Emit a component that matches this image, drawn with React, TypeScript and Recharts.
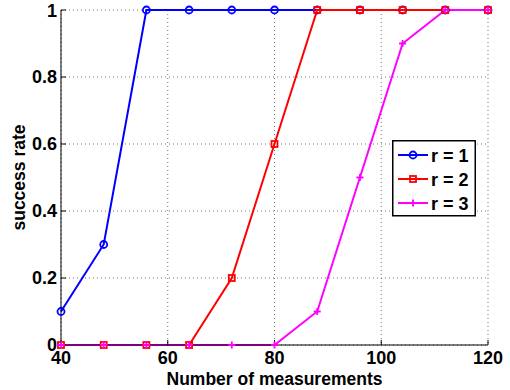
import React from "react";
import {
  LineChart,
  Line,
  XAxis,
  YAxis,
  CartesianGrid,
  Label,
} from "recharts";

const measurements = [40, 48, 56, 64, 72, 80, 88, 96, 104, 112, 120];
const rateR1 = [0.1, 0.3, 1, 1, 1, 1, 1, 1, 1, 1, 1];
const rateR2 = [0, 0, 0, 0, 0.2, 0.6, 1, 1, 1, 1, 1];
const rateR3 = [0, 0, 0, 0, 0, 0, 0.1, 0.5, 0.9, 1, 1];
const xTicks = [40, 60, 80, 100, 120];
const yTicks = [0, 0.2, 0.4, 0.6, 0.8, 1];

const seriesNames = ["r = 1", "r = 2", "r = 3"];

const data = measurements.map((n, i) => ({
  n,
  r1: rateR1[i],
  r2: rateR2[i],
  r3: rateR3[i],
}));

const FONT = '"Liberation Sans", Arial, Helvetica, sans-serif';
const BLUE = "#0000ff";
const RED = "#ff0000";
const MAGENTA = "#ff00ff";

// MATLAB-style markers
function CircleMark({ cx, cy }: any) {
  if (cx == null || cy == null) return null;
  return <circle cx={cx} cy={cy} r={3.5} fill="none" stroke={BLUE} strokeWidth={1.8} />;
}

function SquareMark({ cx, cy }: any) {
  if (cx == null || cy == null) return null;
  return (
    <rect x={cx - 3} y={cy - 3} width={6} height={6} fill="none" stroke={RED} strokeWidth={1.8} />
  );
}

function PlusMark({ cx, cy }: any) {
  if (cx == null || cy == null) return null;
  return (
    <path
      d={`M${cx - 3.5},${cy}H${cx + 3.5}M${cx},${cy - 3.5}V${cy + 3.5}`}
      stroke={MAGENTA}
      strokeWidth={1.8}
    />
  );
}

function LegendBox() {
  const colors = [BLUE, RED, MAGENTA];
  const marks = [CircleMark, SquareMark, PlusMark];
  return (
    <svg
      width={84}
      height={77}
      style={{ position: "absolute", left: 392, top: 140, display: "block" }}
    >
      <rect x={0.75} y={0.75} width={82.5} height={75} fill="#fff" stroke="#000" strokeWidth={1.5} />
      {seriesNames.map((name, i) => {
        const y = 15 + i * 24;
        const Mark = marks[i];
        return (
          <g key={name}>
            <line x1={6} x2={36} y1={y} y2={y} stroke={colors[i]} strokeWidth={2} />
            <Mark cx={21} cy={y} />
            <text
              x={39}
              y={y + 6.5}
              fontFamily={FONT}
              fontWeight="bold"
              fontSize={18}
              fill="#000"
            >
              {name}
            </text>
          </g>
        );
      })}
    </svg>
  );
}

export default function App() {
  const tickStyle = { fill: "#000", fontSize: 18, fontWeight: "bold", fontFamily: FONT };
  const labelStyle = { fill: "#000", fontSize: 17.5, fontWeight: "bold", fontFamily: FONT };
  return (
    <div style={{ position: "absolute", left: 0, top: 0, width: 510, height: 390, fontFamily: FONT }}>
      <LineChart
        width={510}
        height={390}
        data={data}
        margin={{ top: 10, right: 22, bottom: 0, left: 0 }}
      >
        <CartesianGrid stroke="#777" strokeDasharray="1 3" />
        <XAxis
          dataKey="n"
          type="number"
          domain={[40, 120]}
          ticks={xTicks}
          height={45}
          stroke="#000"
          tickSize={-5}
          tickMargin={11}
          tick={tickStyle}
        >
          <Label value="Number of measurements" position="insideBottom" offset={5} style={labelStyle} />
        </XAxis>
        <XAxis
          xAxisId="top"
          orientation="top"
          dataKey="n"
          type="number"
          domain={[40, 120]}
          ticks={xTicks}
          height={0}
          stroke="#000"
          tickSize={-5}
          tick={false}
        />
        <YAxis
          type="number"
          domain={[0, 1]}
          ticks={yTicks}
          width={61}
          stroke="#000"
          tickSize={-5}
          tickMargin={9}
          tick={tickStyle}
        >
          <Label
            value="success rate"
            angle={-90}
            position="insideLeft"
            offset={19}
            style={{ ...labelStyle, textAnchor: "middle" }}
          />
        </YAxis>
        <YAxis
          yAxisId="right"
          orientation="right"
          type="number"
          domain={[0, 1]}
          ticks={yTicks}
          width={0}
          stroke="#000"
          tickSize={-5}
          tick={false}
        />
        <Line
          dataKey="r1"
          stroke={BLUE}
          strokeWidth={2}
          dot={<CircleMark />}
          isAnimationActive={false}
        />
        <Line
          dataKey="r2"
          stroke={RED}
          strokeWidth={2}
          dot={<SquareMark />}
          isAnimationActive={false}
        />
        <Line
          dataKey="r3"
          stroke={MAGENTA}
          strokeWidth={2}
          dot={<PlusMark />}
          isAnimationActive={false}
        />
      </LineChart>
      <LegendBox />
    </div>
  );
}
